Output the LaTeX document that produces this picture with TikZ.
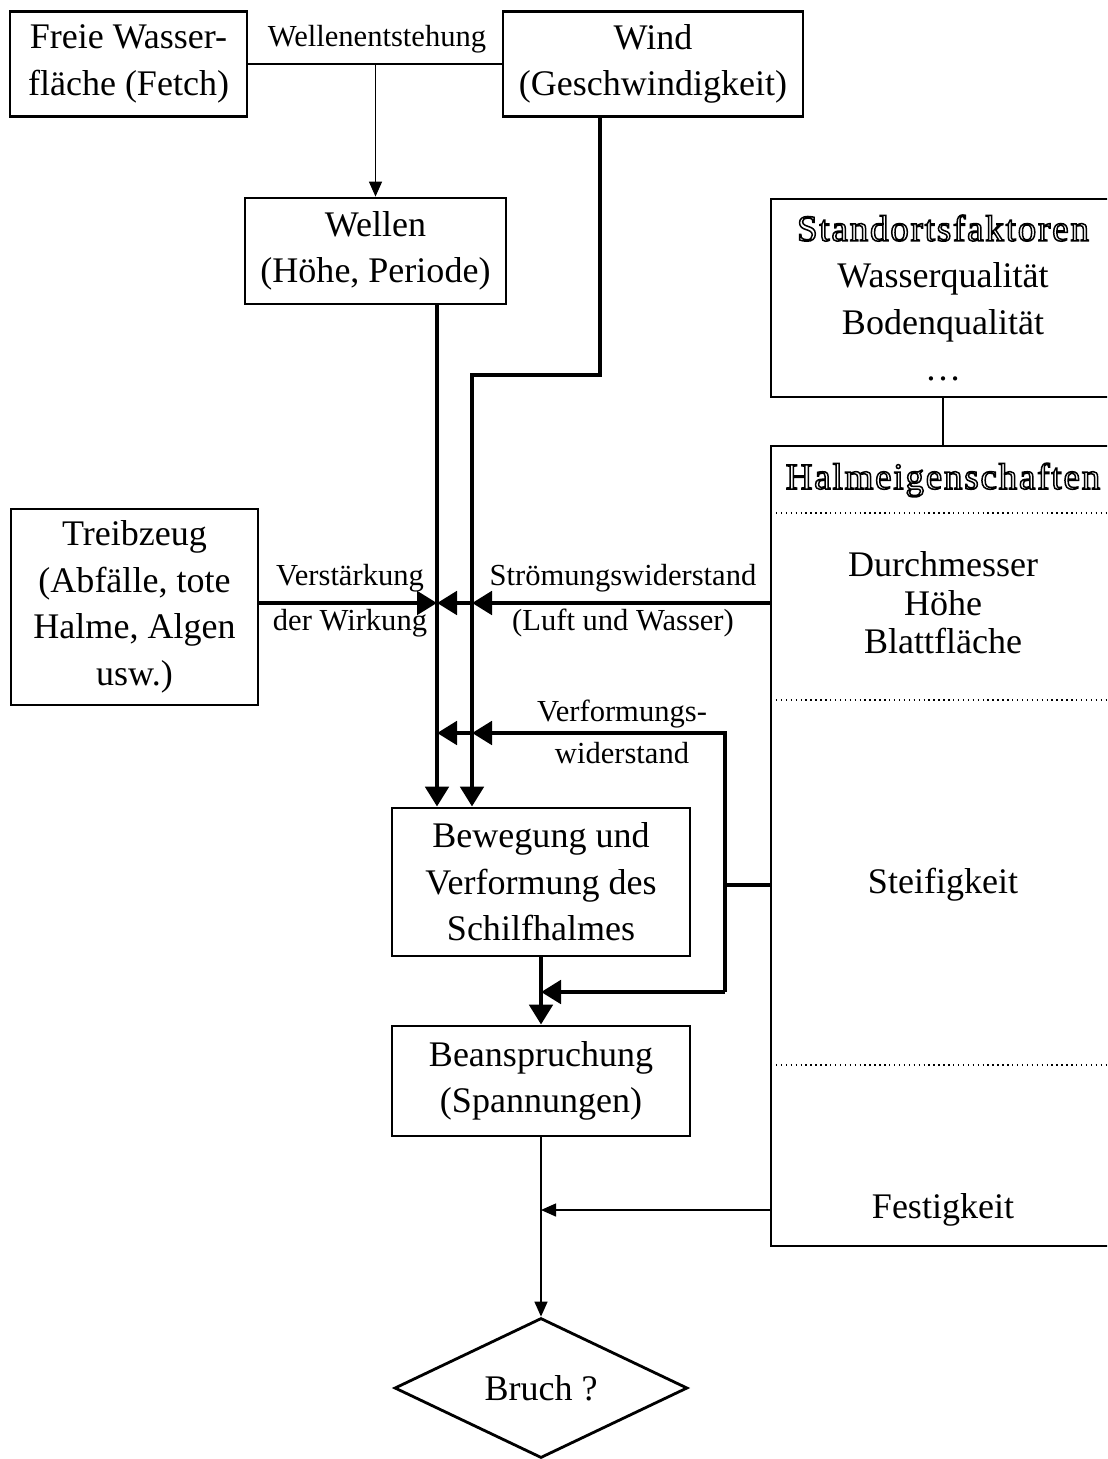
\documentclass[tikz,border=0pt]{standalone}
\usepackage{fontspec}
\setmainfont{Liberation Serif}
\newfontfamily\outlinefont[LetterSpace=5]{Liberation Serif}
\usetikzlibrary{shapes.geometric, arrows.meta, positioning}
\newcommand{\boxfont}{\fontsize{20.5}{26.5}\selectfont}
\newcommand{\lblfont}{\fontsize{17.4}{25.5}\selectfont}
\newcommand{\outlinetext}[1]{{\outlinefont\fontsize{21}{26}\selectfont\special{pdf:literal direct 1 Tr 0.85 w}#1\special{pdf:literal direct 0 Tr}}}

\begin{document}
\begin{tikzpicture}[x=0.02cm, y=-0.02cm,
  box/.style={draw, line width=1.6pt, align=center, font=\boxfont, inner sep=0pt},
  plain/.style={align=center, font=\boxfont, inner sep=0pt},
  lbl/.style={align=center, font=\lblfont, inner sep=0pt},
  flow/.style={line width=2.8pt},
  flowarrow/.style={flow, -{Triangle[length=0.4cm, width=0.46cm]}},
  link/.style={line width=0.8pt},
  linkarrow/.style={link, -{Triangle[length=0.3cm, width=0.26cm]}},
  sep/.style={dotted, line width=0.8pt}
]
  \useasboundingbox (0,0) rectangle (1107,1459);
  \clip (0,0) rectangle (1107,1459);

  % sources
  \node[box, minimum width=4.74cm, minimum height=2.1cm] (freie) at (128.5,64) {Freie Wasser-\\fläche (Fetch)};
  \node[box, minimum width=6cm, minimum height=2.1cm] (wind) at (653,64) {Wind\\(Geschwindigkeit)};
  \node[box, minimum width=5.22cm, minimum height=2.12cm] (wellen) at (375.5,251) {Wellen\\(Höhe, Periode)};
  \node[box, minimum width=4.94cm, minimum height=3.92cm] (treib) at (134.5,607) {Treibzeug\\(Abfälle, tote\\Halme, Algen\\usw.)};

  % site and stalk properties
  \node[box, minimum width=6.88cm, minimum height=3.96cm] (standort) at (943,298)
    {\outlinetext{Standortsfaktoren}\\Wasserqualität\\Bodenqualität\\\dots};
  \node[box, minimum width=6.88cm, minimum height=16cm] (halm) at (943,846) {};
  \node[plain] (halmtitel) at (943,480) {\outlinetext{Halmeigenschaften}};
  \node[plain, font=\fontsize{20.5}{22}\selectfont] (durch) at (943,603) {Durchmesser\\Höhe\\Blattfläche};
  \node[plain] (steif) at (943,885) {Steifigkeit};
  \node[plain] (fest) at (943,1210) {Festigkeit};
  \draw[sep] (771,513) -- (1115,513);
  \draw[sep] (771,700) -- (1115,700);
  \draw[sep] (771,1065) -- (1115,1065);

  % stalk response
  \node[box, minimum width=5.96cm, minimum height=2.96cm] (bew) at (541,882) {Bewegung und\\Verformung des\\Schilfhalmes};
  \node[box, minimum width=5.96cm, minimum height=2.2cm] (bean) at (541,1081) {Beanspruchung\\(Spannungen)};
  \node[diamond, draw, line width=1.6pt, minimum width=5.86cm, minimum height=2.8cm, inner sep=0pt, font=\boxfont] (bruch) at (541,1388) {Bruch ?};

  % lanes
  \coordinate (lx) at (437,0);
  \coordinate (rx) at (472,0);
  \coordinate (vx) at (725,0);
  \coordinate (bend) at (600,375);
  \coordinate (vtop) at (725,733);
  \coordinate (vbot) at (725,992);

  % labels
  \node[lbl] (entst) at (377,39) {Wellenentstehung};
  \node[lbl] (verst) at (350,601) {Verstärkung\\der Wirkung};
  \node[lbl] (stroem) at (623,601) {Strömungswiderstand\\(Luft und Wasser)};
  \node[lbl, font=\fontsize{17.4}{23.8}\selectfont] (verf) at (622,732) {Verformungs-\\widerstand};

  % thin connections
  \draw[link] (freie.east) -- (wind.west);
  \draw[linkarrow] (wellen.north |- freie.east) -- (wellen.north);
  \draw[link] (standort.south) -- (halm.north);
  \draw[linkarrow] (bean.south) -- (bruch.north);
  \draw[linkarrow] (halm.west |- fest) -- (bean.south |- fest);

  % heavy connections
  \draw[flowarrow] (wellen.south -| lx) -- (bew.north -| lx);
  \draw[flowarrow] (wind.south -| bend) -- (bend) -| (bew.north -| rx);
  \draw[flowarrow] (treib.east |- durch) -- (lx |- durch);
  \draw[flowarrow] (halm.west |- durch) -- (rx |- durch);
  \draw[flowarrow] (rx |- durch) -- (lx |- durch);
  \draw[flow] (halm.west |- steif) -- (vx |- steif);
  \draw[flowarrow] (vbot) -- (vtop) -- (rx |- vtop);
  \draw[flowarrow] (rx |- vtop) -- (lx |- vtop);
  \draw[flowarrow] (vbot) -- (bew.south |- vbot);
  \draw[flowarrow] (bew.south) -- (bean.north);
\end{tikzpicture}
\end{document}
